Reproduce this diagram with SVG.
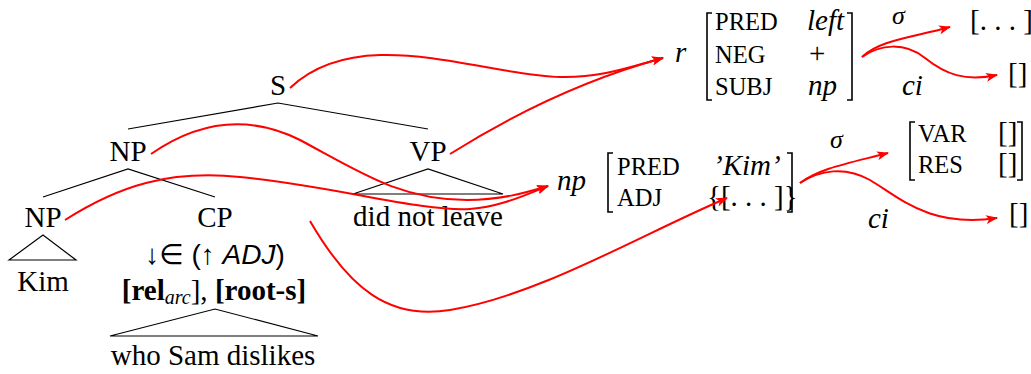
<svg xmlns="http://www.w3.org/2000/svg" width="1031" height="374" viewBox="0 0 1031 374">
<style>
text{font-family:"Liberation Serif","Times New Roman",serif;fill:#000}
.t{font-size:29px;text-anchor:middle}
.sc{font-size:24.5px}
.it{font-style:italic}
.v{font-size:29px}
.tree{stroke:#000;stroke-width:1.2;fill:none}
.br{stroke:#000;stroke-width:1.6;fill:none}
.red{stroke:#f00;stroke-width:2;fill:none;marker-end:url(#ah)}
</style>
<defs>
<marker id="ah" markerWidth="14" markerHeight="10" refX="11" refY="5" orient="auto" markerUnits="userSpaceOnUse">
<path d="M0,0.5 L12,5 L0,9.5 L3,5 Z" fill="#f00"/>
</marker>
</defs>
<rect width="1031" height="374" fill="#fff"/>
<g id="tree-lines">
<path class="tree" d="M128,129 L278,103 L428,129"/>
<path class="tree" d="M43,197 L128,169 L215,197"/>
<path class="tree" d="M353,194 L428,169 L503,194 Z"/>
<path class="tree" d="M9,260 L43,235 L76,260 Z"/>
<path class="tree" d="M110,336 L215,309 L318,336 Z"/>
</g>
<g id="node-S"><text class="t" x="278" y="95">S</text></g>
<g id="node-NP1"><text class="t" x="128" y="161">NP</text></g>
<g id="node-VP"><text class="t" x="428" y="161">VP</text><text class="t" x="428" y="226">did not leave</text></g>
<g id="node-NP2"><text class="t" x="43" y="227">NP</text><text class="t" x="43" y="291">Kim</text></g>
<g id="node-CP">
<text class="t" x="215" y="227">CP</text>
<text x="215" y="264" style="font-family:'Liberation Sans','DejaVu Sans',sans-serif;font-size:28px;text-anchor:middle">↓∈ (↑ <tspan font-style="italic">ADJ</tspan>)</text>
<text class="t" x="214" y="300"><tspan font-weight="bold">[rel</tspan><tspan font-style="italic" font-size="20" dy="4">arc</tspan><tspan dy="-4">], </tspan><tspan font-weight="bold">[root-s]</tspan></text>
<text class="t" x="213" y="365">who Sam dislikes</text>
</g>
<g id="avm-r">
<text class="v it" x="675" y="62">r</text>
<path class="br" d="M712,13 L707,13 L707,100 L712,100"/>
<text class="sc" x="715" y="30">PRED</text>
<text class="sc" x="715" y="63">NEG</text>
<text class="sc" x="715" y="95">SUBJ</text>
<text class="v it" x="807" y="30">left</text>
<text class="v" x="809" y="63">+</text>
<text class="v it" x="808" y="95">np</text>
<path class="br" d="M847,13 L852,13 L852,100 L847,100"/>
</g>
<g id="sigma-top"><text class="it" font-size="26" x="892" y="24">σ</text><text class="v" x="970" y="30">[. . . ]</text></g>
<g id="ci-top"><text class="v it" x="902" y="95">ci</text><text class="v" x="1008" y="83">[]</text></g>
<g id="avm-np">
<text class="v it" x="557" y="190">np</text>
<path class="br" d="M613,153 L608,153 L608,212 L613,212"/>
<text class="sc" x="617" y="175">PRED</text>
<text class="sc" x="617" y="206">ADJ</text>
<text class="v it" x="713" y="175">’Kim’</text>
<text class="v" x="707" y="206">{[. . . ]}</text>
<path class="br" d="M787,153 L792,153 L792,212 L787,212"/>
</g>
<g id="sigma-bottom">
<text class="it" font-size="26" x="830" y="148">σ</text>
<path class="br" d="M915,122 L910,122 L910,180 L915,180"/>
<text class="sc" x="918" y="142">VAR</text>
<text class="sc" x="918" y="173">RES</text>
<text class="v" x="998" y="142">[]</text>
<text class="v" x="998" y="173">[]</text>
<path class="br" d="M1017,122 L1022,122 L1022,180 L1017,180"/>
</g>
<g id="ci-bottom"><text class="v it" x="868" y="228">ci</text><text class="v" x="1009" y="223">[]</text></g>
<g id="connectors">
<path class="red" d="M290,88 C360,22 480,75 560,77 C600,78 630,67 663,58"/>
<path class="red" d="M450,154 C520,110 590,78 663,58"/>
<path class="red" d="M151,154 C200,120 250,115 300,140 C360,172 400,200 467,200 C500,200 525,193 548,186"/>
<path class="red" d="M65,220 C120,185 170,170 240,177 C330,185 420,212 470,209 C500,207 525,195 548,186"/>
<path class="red" d="M310,221 C350,290 390,320 450,310 C540,295 640,235 727,198"/>
<path class="red" d="M862,57 C880,40 910,38 950,27"/>
<path class="red" d="M862,57 C880,44 905,42 925,58 C945,74 965,82 997,75"/>
<path class="red" d="M800,183 C820,168 850,163 888,153"/>
<path class="red" d="M800,183 C820,170 845,166 870,180 C900,198 930,228 997,218"/>
</g>
</svg>
